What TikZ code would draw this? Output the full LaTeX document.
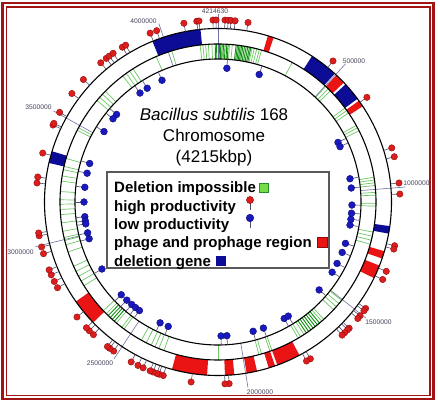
\documentclass[tikz,border=0pt]{standalone}
\usepackage{fontspec}
\setmainfont{Liberation Sans}
\definecolor{framec}{RGB}{160,20,20}
\definecolor{segred}{RGB}{235,20,20}
\definecolor{segblue}{RGB}{12,12,150}
\definecolor{glight}{RGB}{110,200,100}
\definecolor{gdark}{RGB}{15,145,15}
\definecolor{stickc}{RGB}{80,80,110}
\definecolor{tickc}{RGB}{110,115,160}
\definecolor{headred}{RGB}{220,30,30}
\definecolor{headreddark}{RGB}{150,10,10}
\definecolor{headblue}{RGB}{25,25,190}
\definecolor{headbluedark}{RGB}{10,10,120}
\definecolor{labelc}{RGB}{70,70,95}
\definecolor{legborder}{RGB}{90,90,90}
\definecolor{leggreen}{RGB}{115,220,70}
\definecolor{leggreenb}{RGB}{40,140,40}
\tikzset{
  ringline/.style={draw=black, line width=1.1pt},
  gl/.style={draw=glight, line width=0.7pt},
  gd/.style={draw=gdark, line width=0.9pt},
  stick/.style={draw=stickc, line width=0.6pt},
  tickline/.style={draw=tickc, line width=0.6pt},
  rhead/.style={fill=headred, draw=headreddark, line width=0.4pt},
  bhead/.style={fill=headblue, draw=headbluedark, line width=0.4pt},
  poslabel/.style={font=\fontsize{6.7}{7}\selectfont, text=labelc, inner sep=0pt},
  legtext/.style={font=\bfseries\fontsize{15}{18}\selectfont, anchor=base west, inner sep=0pt},
  titletext/.style={font=\fontsize{17}{20}\selectfont, anchor=base, inner sep=0pt},
}
\begin{document}
\begin{tikzpicture}[x=1pt,y=1pt]
\useasboundingbox (0,0) rectangle (440,404);
\fill[white] (0,0) rectangle (440,404);
% frame
\draw[framec, line width=2.2pt] (2.5,5) rectangle (433.5,401);
\draw[framec, line width=1.3pt] (6.5,8.5) rectangle (430,397);

\begin{scope}[shift={(218,202)}]
  % green lines (deletion impossible)
  \foreach \a in {-6.5,-5.5,-4.5,-3.5,-2.2,4.2,5.2,12.5,13.3,14.2,15.2,16,28,43,44.2,45.3,53.5,54.6,55.7,61,62,63.2,81,82,83,84,86.5,87.5,90.5,91.5,101,102.5,104,105.5,128.5,130,131.5,133,138,139,147,148.5,149.5,160,160.8,164,165,180,200,202,203.5,205,207,209,216.5,217.5,220,225,226.5,238,240,242,244,246,251.6,254.3,255.9,257,259.3,262.4,265.4,267.3,269.2,270.8,273.8,277.6,279.5,281.8,283,286,297,298,310,311.5,313,314.5,323,324.5,326,327.5,337,343}
    \draw[gl] ({90-\a}:143) -- ({90-\a}:158);
  \foreach \a in {-1,-0.5,0,0.5,1,1.5,2,2.6,3.2,3.7,6.6,7.1,7.6,8.1,8.6,9.1,9.7,10.3,10.9,11.5,12,140,141,142,143,144,145,146,221,222,223,224}
    \draw[gd] ({90-\a}:143) -- ({90-\a}:158);
  % position ticks
  \foreach \a/\nm in {0/k0,42.71/k1,85.42/k2,128.12/k3,170.83/k4,213.54/k5,256.25/k6,298.96/k7,341.67/k8}
    \draw[tickline] ({90-\a}:143) coordinate (\nm a) -- ({90-\a}:188) coordinate (\nm b);
  % outer ring segments
  \foreach \c/\p/\q in {segblue/337.8/354.2,segred/16.7/18.7,segblue/32.8/42.3,segred/43/46.5,segblue/47.3/53.5,segred/54.3/56.5,segblue/98/100.5,segred/106.5/109,segred/111.5/116,segred/152/160,segred/160.8/163,segred/167/170.5,segred/174.6/177.7,segred/183.6/195.4,segred/226/235,segblue/283/287}
    \fill[fill=\c] ({90-\p}:158) arc[start angle={90-\p}, end angle={90-\q}, radius=158] -- ({90-\q}:173.5) arc[start angle={90-\q}, end angle={90-\p}, radius=173.5] -- cycle;
  % circles
  \draw[ringline] (0,0) circle[radius=173.5];
  \draw[ringline] (0,0) circle[radius=158];
  \draw[ringline] (0,0) circle[radius=143];
\end{scope}

% position labels
\node[poslabel] (l0) at (215,393) {4214630};
\node[poslabel] (l1) at (354,343) {500000};
\node[poslabel] (l2) at (416.5,221) {1000000};
\node[poslabel] (l3) at (378.5,82) {1500000};
\node[poslabel] (l4) at (260,12) {2000000};
\node[poslabel] (l5) at (100,41) {2500000};
\node[poslabel] (l6) at (20.5,152) {3000000};
\node[poslabel] (l7) at (38.5,297) {3500000};
\node[poslabel] (l8) at (143.5,383) {4000000};

% title
\node[titletext] (ti1) at (214,283) {\textit{Bacillus subtilis} 168};
\node[titletext] (ti2) at (214,262) {Chromosome};
\node[titletext] (ti3) at (214,241.7) {(4215kbp)};

% legend
\draw[draw=legborder, line width=1.5pt, fill=white] (107,136) rectangle (329,232);
\node[legtext] (lg1) at (114,211.3) {Deletion impossible};
\node[legtext] (lg2) at (114,192.9) {high productivity};
\node[legtext] (lg3) at (114,174.5) {low productivity};
\node[legtext] (lg4) at (114,156.1) {phage and prophage region};
\node[legtext] (lg5) at (114,137.7) {deletion gene};
\filldraw[fill=leggreen, draw=leggreenb, line width=0.6pt] (259,212) rectangle (268,221);
\draw[stick] (250,194) -- (250,204);
\filldraw[rhead] (250,204) circle[radius=3.6];
\draw[stick] (250,176) -- (250,186);
\filldraw[bhead] (250,186) circle[radius=3.8];
\filldraw[fill=segred, draw=headreddark, line width=0.5pt] (317,157) rectangle (327,167);
\filldraw[fill=segblue, draw=segblue, line width=0.5pt] (216,139) rectangle (225,148);

\begin{scope}[shift={(218,202)}]
  % high productivity (red lollipops, outside)
  \foreach \a in {338.1,340.3,349.2,353.3,354,358.4,359.4,2.2,3.2,4.1,5.4,9.5,39.2,54.9,72.7,75.6,84,87.5,103.9,105,112.4,115.2,125.8,126.7,128.7,129.8,133.9,134.6,135.9,137,149.5,150.9,176.5,177.8,188.5,197.5,198.9,199.6,200.9,201.9,204.3,206.1,208.5,215,216.5,217.4,223.2,225,226.3,230.8,241.9,244.1,246.4,248.1,253.5,255.7,259.3,260.2,276,277.9,285.6,295,295.6,299.5,306.6,312.3,319.9,322.1,323.3,324.8,328.3,329.5}
    {\draw[stick] ({90-\a}:173.5) -- ({90-\a}:182);
     \filldraw[rhead] ({90-\a}:182) circle[radius=3.2];}
  % low productivity (blue lollipops, inside)
  \foreach \a in {335.3,324.4,328.1,310.8,308.4,301.7,286.7,282.4,276.3,270,263.7,261.9,260.6,256.7,254.1,240,226.2,222.9,220.1,218,215.9,205.6,201.8,178.7,176.2,164.8,160.2,150.4,148.4,131,121.6,117.3,112.1,108,99.9,97.4,94.8,91.3,84,80,63.6,65.6,17.9,3.8}
    {\draw[stick] ({90-\a}:143) -- ({90-\a}:134);
     \filldraw[bhead] ({90-\a}:134) circle[radius=3.4];}
\end{scope}
\end{tikzpicture}
\end{document}
